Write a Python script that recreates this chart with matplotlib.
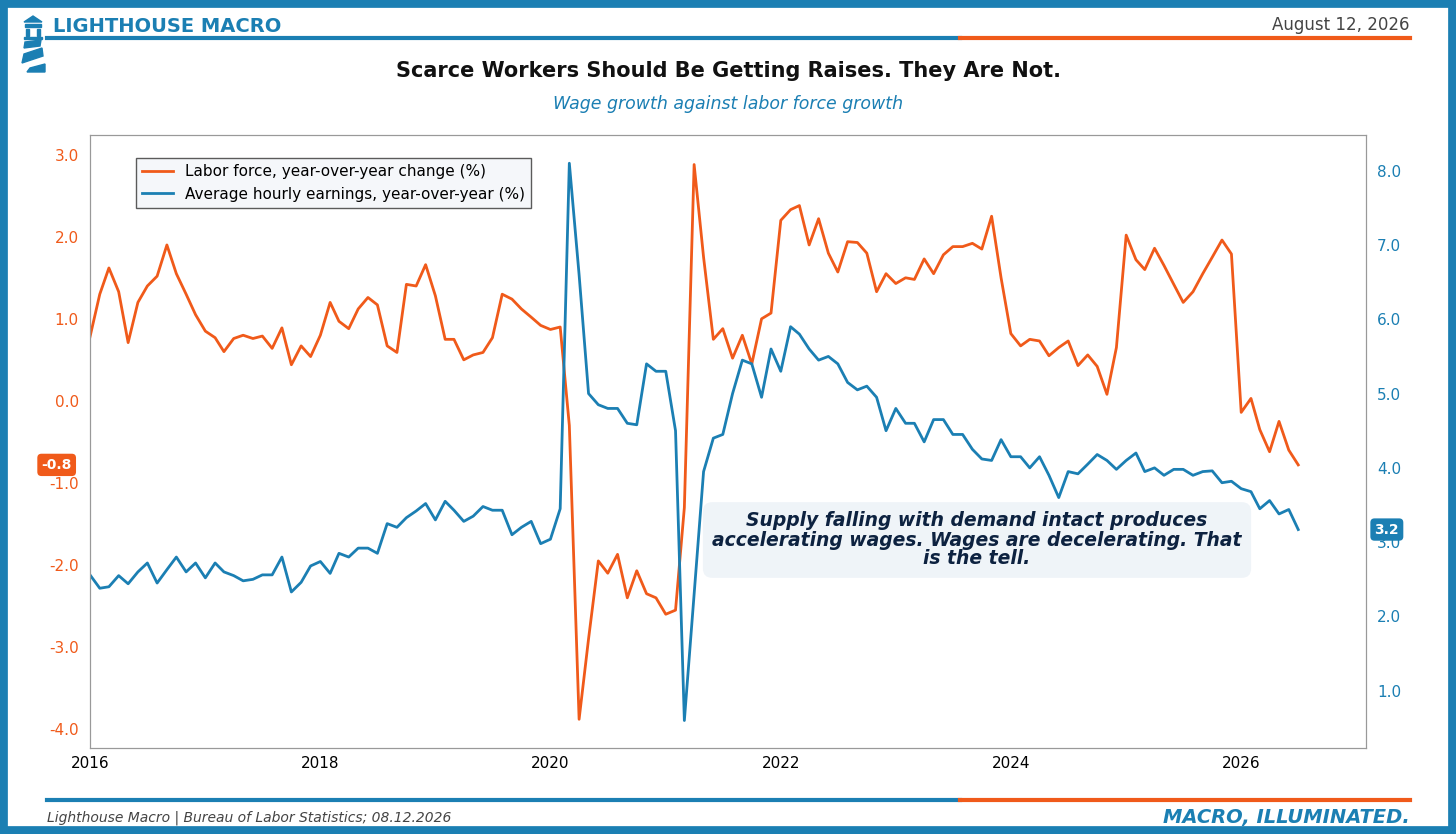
import matplotlib
matplotlib.use("Agg")
import matplotlib.pyplot as plt
import matplotlib.dates as mdates
import numpy as np
import pandas as pd
from matplotlib.patches import Rectangle, Polygon

BLUE = "#1b7fb3"
ORANGE = "#f05a1a"
NAVY = "#0d2240"

dates = pd.date_range("2016-01-01", periods=127, freq="MS")

labor_force = [
    0.78,1.3,1.62,1.33,0.71,1.2,1.4,1.52,1.9,1.55,1.3,1.05,
    0.85,0.77,0.6,0.76,0.8,0.76,0.79,0.64,0.89,0.44,0.67,0.54,
    0.8,1.2,0.97,0.88,1.12,1.26,1.17,0.67,0.59,1.42,1.4,1.66,
    1.28,0.75,0.75,0.5,0.56,0.59,0.77,1.3,1.24,1.12,1.02,0.92,
    0.87,0.9,-0.3,-3.88,-2.9,-1.95,-2.1,-1.87,-2.4,-2.07,-2.35,-2.4,
    -2.6,-2.55,-1.3,2.88,1.75,0.75,0.88,0.52,0.8,0.45,1.0,1.07,
    2.2,2.33,2.38,1.9,2.22,1.8,1.57,1.94,1.93,1.8,1.33,1.55,
    1.43,1.5,1.48,1.73,1.55,1.78,1.88,1.88,1.92,1.85,2.25,1.5,
    0.82,0.67,0.75,0.73,0.55,0.65,0.73,0.43,0.56,0.42,0.08,0.65,
    2.02,1.72,1.6,1.86,1.65,1.42,1.2,1.33,1.55,1.75,1.96,1.79,
    -0.14,0.03,-0.35,-0.62,-0.25,-0.6,-0.78,
]
wages = [
    2.56,2.38,2.4,2.55,2.44,2.6,2.72,2.45,2.63,2.8,2.6,2.72,
    2.52,2.72,2.6,2.55,2.48,2.5,2.56,2.56,2.8,2.33,2.46,2.68,
    2.74,2.58,2.85,2.8,2.92,2.92,2.85,3.25,3.2,3.33,3.42,3.52,
    3.3,3.55,3.43,3.28,3.35,3.48,3.43,3.43,3.1,3.2,3.28,2.98,
    3.04,3.45,8.1,6.6,5.0,4.85,4.8,4.8,4.6,4.58,5.4,5.3,
    5.3,4.5,0.6,2.3,3.95,4.4,4.45,5.0,5.45,5.4,4.95,5.6,
    5.3,5.9,5.8,5.6,5.45,5.5,5.4,5.15,5.05,5.1,4.95,4.5,
    4.8,4.6,4.6,4.35,4.65,4.65,4.45,4.45,4.25,4.12,4.1,4.38,
    4.15,4.15,4.0,4.15,3.9,3.6,3.95,3.92,4.05,4.18,4.1,3.98,
    4.1,4.2,3.95,4.0,3.9,3.98,3.98,3.9,3.95,3.96,3.8,3.82,
    3.72,3.68,3.45,3.56,3.38,3.44,3.17,
]

fig = plt.figure(figsize=(14.56, 8.34), dpi=100)
fig.patch.set_facecolor("white")

# frame
fig.add_artist(Rectangle((0.002, 0.004), 0.996, 0.992, transform=fig.transFigure,
                         fill=False, edgecolor=BLUE, linewidth=7))

# header lines
def hline(y):
    fig.add_artist(plt.Line2D([47/1456, 960/1456], [y, y], color=BLUE, lw=3, transform=fig.transFigure))
    fig.add_artist(plt.Line2D([960/1456, 1410/1456], [y, y], color=ORANGE, lw=3, transform=fig.transFigure))
hline(1-38/834)
hline(1-800/834)

# logo
def fx(px): return px/1456
def fy(py): return 1-py/834
logo = [
    [(24,22),(33,16),(42,22)],
    [(25,24),(41,24),(41,27),(25,27)],
    [(26,29),(29,29),(29,36),(26,36)],
    [(37,29),(40,29),(40,36),(37,36)],
    [(24,37),(42,37),(42,39),(24,39)],
    [(25,42),(41,40),(40,46),(24,48)],
    [(24,54),(42,48),(43,56),(22,63)],
    [(30,68),(45,64),(45,72),(27,72)],
]
for pts in logo:
    fig.add_artist(Polygon([(fx(a), fy(b)) for a, b in pts], closed=True,
                           transform=fig.transFigure, color=BLUE))

fig.text(53/1456, 1-27/834, "LIGHTHOUSE MACRO", color=BLUE, fontsize=14, fontweight="bold", va="center")
fig.text(1410/1456, 1-25/834, "August 12, 2026", color="#444444", fontsize=12, ha="right", va="center")
fig.text(0.5, 1-71/834, "Scarce Workers Should Be Getting Raises. They Are Not.", fontsize=15,
         fontweight="bold", ha="center", va="center", color="#111111")
fig.text(0.5, 1-104/834, "Wage growth against labor force growth", fontsize=12.5, style="italic",
         ha="center", va="center", color=BLUE)
fig.text(47/1456, 1-818/834, "Lighthouse Macro | Bureau of Labor Statistics; 08.12.2026", fontsize=10,
         style="italic", color="#444444", va="center")
fig.text(1410/1456, 1-818/834, "MACRO, ILLUMINATED.", fontsize=14, style="italic", fontweight="bold",
         color=BLUE, ha="right", va="center")

ax = fig.add_axes([90/1456, 1-748/834, (1366-90)/1456, (748-135)/834])
ax2 = ax.twinx()
l1, = ax.plot(dates, labor_force, color=ORANGE, lw=2, label="Labor force, year-over-year change (%)")
l2, = ax2.plot(dates, wages, color=BLUE, lw=2, label="Average hourly earnings, year-over-year (%)")

ax.set_xlim(pd.Timestamp("2016-01-01"), pd.Timestamp("2027-02-01"))
ax.set_ylim(-4.23, 3.24)
ax2.set_ylim(0.23, 8.48)
ax.set_yticks(np.arange(-4, 3.1, 1))
ax.set_yticklabels([f"{v:.1f}" for v in np.arange(-4, 3.1, 1)])
ax2.set_yticks(np.arange(1, 8.1, 1))
ax2.set_yticklabels([f"{v:.1f}" for v in np.arange(1, 8.1, 1)])
ax.xaxis.set_major_locator(mdates.YearLocator(2))
ax.xaxis.set_major_formatter(mdates.DateFormatter("%Y"))
ax.tick_params(axis="y", colors=ORANGE, labelsize=11, length=0, pad=8)
ax2.tick_params(axis="y", colors=BLUE, labelsize=11, length=0, pad=8)
ax.tick_params(axis="x", labelsize=11, length=0, pad=6)
for a in (ax, ax2):
    for s in a.spines.values():
        s.set_color("#999999")
        s.set_linewidth(0.8)

leg = ax.legend(handles=[l1, l2], loc="upper left", bbox_to_anchor=(0.03, 0.975), fontsize=11,
                frameon=True, fancybox=False, edgecolor="#333333", facecolor="#f3f6f9")

ax.text(0.465*1+0.0, 0.345, "", transform=ax.transAxes)
ax.text((977-90)/1276, (748-540)/613,
        "Supply falling with demand intact produces\naccelerating wages. Wages are decelerating. That\nis the tell.",
        transform=ax.transAxes, ha="center", va="center", fontsize=13.5, fontweight="bold",
        style="italic", color=NAVY, linespacing=1.0,
        bbox=dict(boxstyle="round,pad=0.5", facecolor="#eef3f8", edgecolor="none", alpha=0.9))

# end-value badges
ax.annotate(f"{labor_force[-1]:.1f}", xy=(0, labor_force[-1]), xycoords=("axes fraction", "data"),
            xytext=(-24, 0), textcoords="offset points", ha="center", va="center", color="white",
            fontsize=10, fontweight="bold",
            bbox=dict(boxstyle="round,pad=0.3", facecolor=ORANGE, edgecolor="none"))
ax2.annotate(f"{wages[-1]:.1f}", xy=(1, wages[-1]), xycoords=("axes fraction", "data"),
             xytext=(15, 0), textcoords="offset points", ha="center", va="center", color="white",
             fontsize=10, fontweight="bold",
             bbox=dict(boxstyle="round,pad=0.3", facecolor=BLUE, edgecolor="none"))

fig.savefig("out.png", dpi=100)
